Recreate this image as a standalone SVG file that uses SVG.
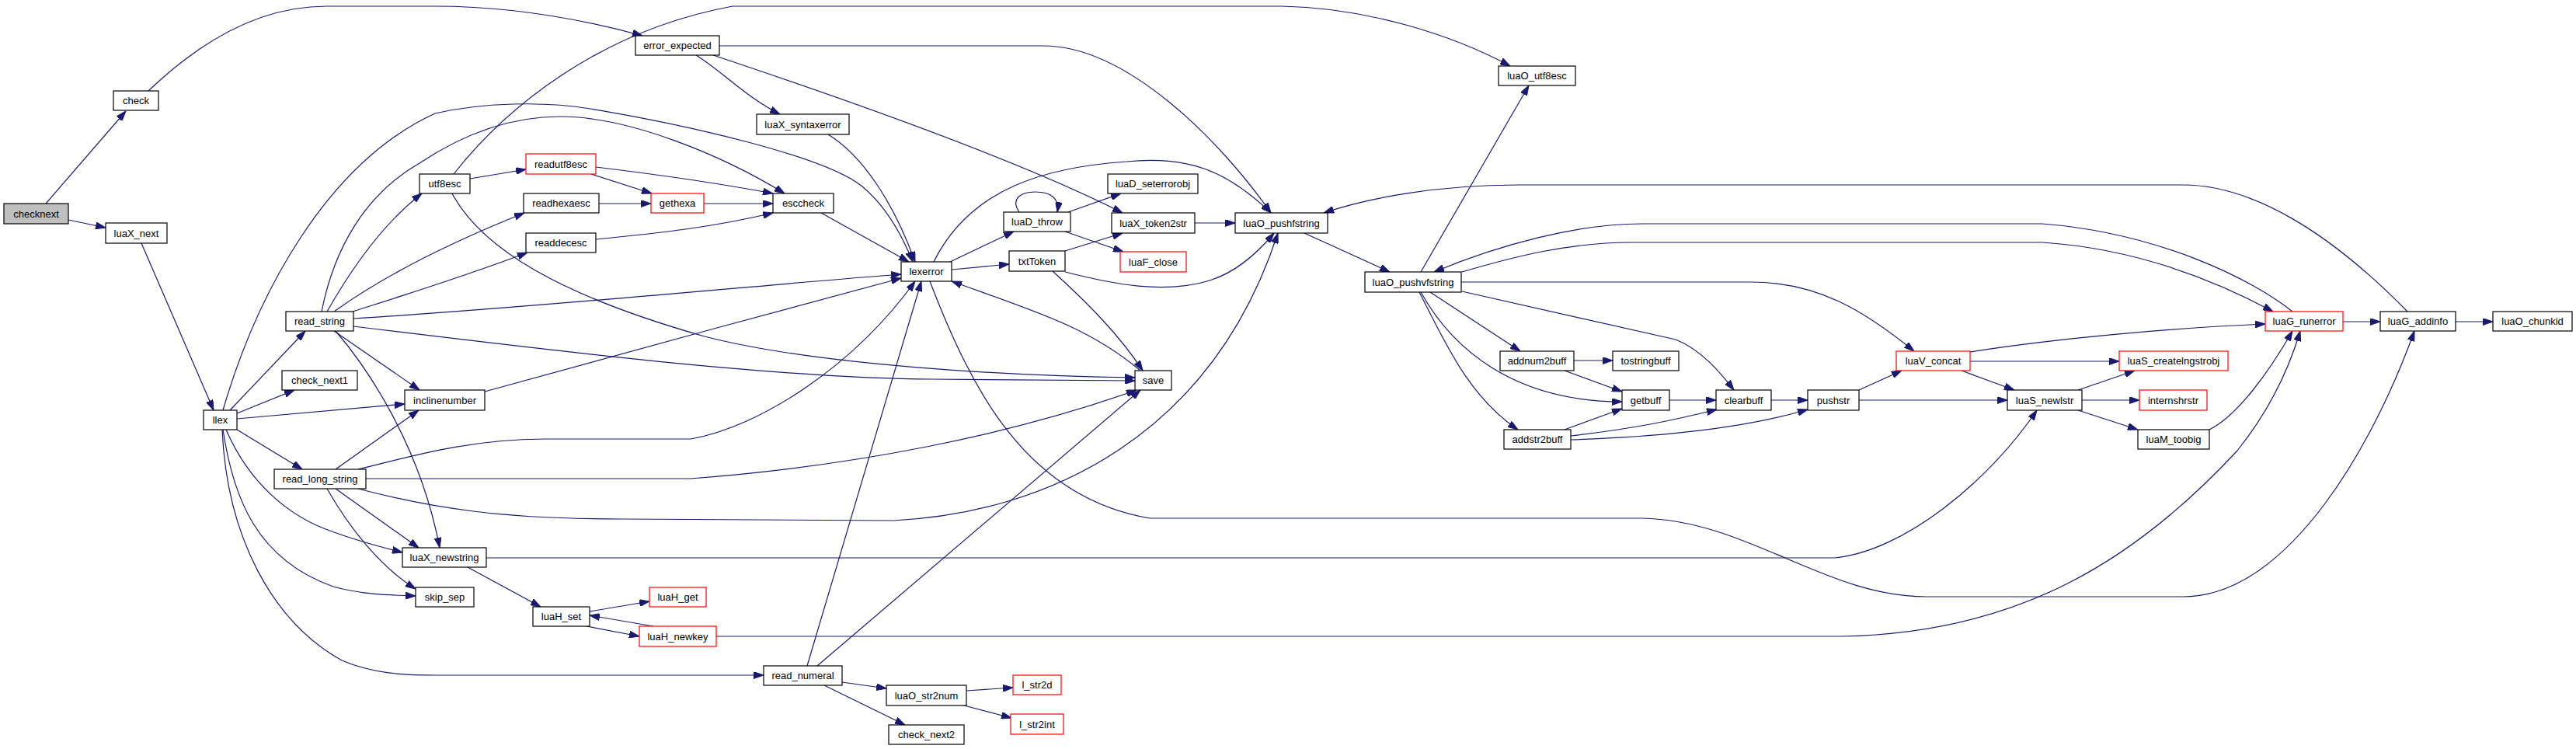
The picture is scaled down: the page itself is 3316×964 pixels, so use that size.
<svg xmlns="http://www.w3.org/2000/svg" width="3316" height="964" viewBox="0 0 3316 964">
<defs>
<marker id="a" markerWidth="13" markerHeight="9" refX="13" refY="4.5" orient="auto" markerUnits="userSpaceOnUse"><path d="M0,0 L13,4.5 L0,9 z" fill="#191970" stroke="#191970" stroke-width="1"/></marker>
</defs>
<style>
.node rect{fill:#ffffff;stroke:#000000;stroke-width:1.2}
.node.red rect{stroke:#ff0000}
.node.cur rect{fill:#bfbfbf}
.node text{font-family:"Liberation Sans",Arial,sans-serif;font-size:13px;fill:#000000;text-anchor:middle}
.edges path{fill:none;stroke:#191970;stroke-width:1.2;marker-end:url(#a)}
</style>
<rect x="0" y="0" width="3316" height="964" fill="#ffffff"/>
<g id="edges" class="edges">
<path d="M59,262 L162,143"/>
<path d="M88,283 L136,293"/>
<path d="M191,117 C240,70 320,8 420,8 L560,8 C660,8 750,25 827,46"/>
<path d="M182,313 L275,528"/>
<path d="M296,528 L393,426"/>
<path d="M305,532 L379,502"/>
<path d="M305,539 L521,520"/>
<path d="M305,553 L389,604"/>
<path d="M291,553 C320,620 370,665 430,685 C460,696 490,704 518,711"/>
<path d="M287,553 C300,640 330,720 429,755 C465,765 500,766 535,767"/>
<path d="M286,553 C292,690 350,800 440,850 C480,867 520,869 560,869 L983,869"/>
<path d="M287,528 C330,380 420,210 560,146 C620,132 700,130 760,140 C880,160 1060,200 1110,240 C1140,265 1160,300 1175,337"/>
<path d="M414,401 C430,320 470,250 540,210 C600,170 660,150 721,150 C810,150 930,200 1010,249"/>
<path d="M421,401 C450,350 490,290 543,249"/>
<path d="M430,401 C480,365 560,320 675,274"/>
<path d="M454,401 C520,380 600,355 679,325"/>
<path d="M455,410 C700,395 1000,365 1160,353"/>
<path d="M430,426 L540,502"/>
<path d="M432,426 C470,470 540,570 566,705"/>
<path d="M455,420 C700,450 1000,487 1200,488 L1461,490"/>
<path d="M584,224 C650,140 770,40 943,8 L1650,8 C1760,10 1870,45 1944,85"/>
<path d="M605,230 L677,218"/>
<path d="M582,249 C620,320 720,380 907,433 C1050,470 1300,484 1461,486"/>
<path d="M761,224 L839,249"/>
<path d="M767,215 C850,225 920,235 995,249"/>
<path d="M771,262 L838,262"/>
<path d="M906,262 L995,262"/>
<path d="M767,308 C850,300 920,292 995,274"/>
<path d="M1057,274 L1170,337"/>
<path d="M896,71 C930,92 960,125 1004,147"/>
<path d="M918,71 C1050,115 1300,200 1445,274"/>
<path d="M926,59 L1343,59 C1450,59 1570,180 1636,274"/>
<path d="M1066,173 C1110,200 1150,260 1178,337"/>
<path d="M432,604 L539,528"/>
<path d="M461,604 C520,590 600,565 700,565 L889,565 C980,549 1100,470 1178,362"/>
<path d="M471,616 L889,616 C1100,600 1300,560 1463,502"/>
<path d="M461,629 C560,655 650,668 800,668 L1150,670 C1350,660 1560,560 1645,300"/>
<path d="M432,629 L539,705"/>
<path d="M421,629 C450,680 490,730 535,758"/>
<path d="M624,504 C750,470 1000,400 1160,358"/>
<path d="M602,730 L696,781"/>
<path d="M626,718 L2361,718 C2450,710 2560,620 2622,528"/>
<path d="M759,787 L836,774"/>
<path d="M755,806 L823,819"/>
<path d="M841,806 L759,792"/>
<path d="M922,819 L2370,819 C2600,815 2750,720 2880,580 C2920,530 2945,480 2961,426"/>
<path d="M1039,857 L1186,362"/>
<path d="M1052,857 L1468,502"/>
<path d="M1084,878 L1141,886"/>
<path d="M1061,882 L1165,933"/>
<path d="M1244,889 L1304,885"/>
<path d="M1241,908 L1302,924"/>
<path d="M1223,337 L1305,298"/>
<path d="M1225,347 L1299,340"/>
<path d="M1202,337 C1250,240 1350,215 1450,208 C1530,200 1580,220 1636,274"/>
<path d="M1197,362 C1250,500 1320,640 1480,667 L2114,667 C2250,670 2350,768 2480,768 L2810,768 C2950,768 3060,560 3108,426"/>
<path d="M1468,477 C1400,420 1330,400 1225,362"/>
<path d="M1312,273 C1300,255 1315,247 1333,247 C1352,247 1364,255 1361,273"/>
<path d="M1375,273 L1443,249"/>
<path d="M1371,298 L1446,324"/>
<path d="M1371,323 L1445,300"/>
<path d="M1371,350 C1430,365 1500,380 1560,360 C1590,350 1615,330 1640,300"/>
<path d="M1355,349 C1400,390 1440,430 1471,477"/>
<path d="M1538,287 L1590,287"/>
<path d="M1679,300 L1789,350"/>
<path d="M1829,350 L1968,110"/>
<path d="M1841,376 L1957,452"/>
<path d="M2026,464 L2076,464"/>
<path d="M2014,477 L2088,504"/>
<path d="M1829,376 C1870,450 1950,517 2088,517"/>
<path d="M1827,376 C1860,440 1890,510 1954,553"/>
<path d="M1882,375 L2157,437 C2190,450 2215,480 2232,502"/>
<path d="M1881,363 L2254,363 C2340,363 2400,400 2464,452"/>
<path d="M2951,401 C2900,360 2780,300 2629,288 L2114,288 C2030,288 1930,315 1846,350"/>
<path d="M1882,350 C1950,330 2020,312 2100,312 L2629,312 C2750,320 2850,360 2926,401"/>
<path d="M3099,401 C3000,300 2900,238 2810,238 L1954,238 C1850,238 1760,255 1704,274"/>
<path d="M3016,414 L3064,414"/>
<path d="M3161,414 L3209,414"/>
<path d="M2149,515 L2209,515"/>
<path d="M2014,553 L2088,526"/>
<path d="M2022,561 C2100,552 2150,542 2210,527"/>
<path d="M2022,566 C2150,562 2250,550 2327,527"/>
<path d="M2280,515 L2327,515"/>
<path d="M2393,515 L2584,515"/>
<path d="M2393,502 L2448,477"/>
<path d="M2525,477 L2593,502"/>
<path d="M2536,465 L2728,465"/>
<path d="M2536,453 C2650,435 2800,422 2916,417"/>
<path d="M2675,502 L2748,477"/>
<path d="M2680,515 L2754,515"/>
<path d="M2675,528 L2752,553"/>
<path d="M2844,553 C2880,535 2920,480 2951,426"/>
</g>
<g id="n_checknext" class="node cur"><rect x="5" y="262" width="83" height="26"/><text x="46.5" y="279.5">checknext</text></g>
<g id="n_check" class="node"><rect x="146" y="117" width="58" height="25"/><text x="175" y="134">check</text></g>
<g id="n_luaX_next" class="node"><rect x="136" y="287" width="79" height="26"/><text x="175.5" y="304.5">luaX_next</text></g>
<g id="n_error_expected" class="node"><rect x="818" y="46" width="108" height="25"/><text x="872" y="63">error_expected</text></g>
<g id="n_luaX_syntaxerror" class="node"><rect x="974" y="147" width="119" height="26"/><text x="1033.5" y="164.5">luaX_syntaxerror</text></g>
<g id="n_llex" class="node"><rect x="262" y="528" width="43" height="25"/><text x="283.5" y="545">llex</text></g>
<g id="n_read_string" class="node"><rect x="368" y="401" width="87" height="25"/><text x="411.5" y="418">read_string</text></g>
<g id="n_check_next1" class="node"><rect x="363" y="477" width="97" height="25"/><text x="411.5" y="494">check_next1</text></g>
<g id="n_inclinenumber" class="node"><rect x="521" y="502" width="103" height="26"/><text x="572.5" y="519.5">inclinenumber</text></g>
<g id="n_read_long_string" class="node"><rect x="353" y="604" width="118" height="25"/><text x="412" y="621">read_long_string</text></g>
<g id="n_luaX_newstring" class="node"><rect x="518" y="705" width="108" height="25"/><text x="572" y="722">luaX_newstring</text></g>
<g id="n_skip_sep" class="node"><rect x="535" y="756" width="75" height="25"/><text x="572.5" y="773">skip_sep</text></g>
<g id="n_utf8esc" class="node"><rect x="540" y="224" width="65" height="25"/><text x="572.5" y="241">utf8esc</text></g>
<g id="n_readutf8esc" class="node red"><rect x="677" y="198" width="90" height="26"/><text x="722" y="215.5">readutf8esc</text></g>
<g id="n_readhexaesc" class="node"><rect x="674" y="249" width="97" height="25"/><text x="722.5" y="266">readhexaesc</text></g>
<g id="n_gethexa" class="node red"><rect x="838" y="249" width="68" height="25"/><text x="872" y="266">gethexa</text></g>
<g id="n_esccheck" class="node"><rect x="995" y="249" width="78" height="25"/><text x="1034" y="266">esccheck</text></g>
<g id="n_readdecesc" class="node"><rect x="677" y="300" width="90" height="25"/><text x="722" y="317">readdecesc</text></g>
<g id="n_luaH_set" class="node"><rect x="686" y="781" width="73" height="25"/><text x="722.5" y="798">luaH_set</text></g>
<g id="n_luaH_get" class="node red"><rect x="836" y="756" width="73" height="25"/><text x="872.5" y="773">luaH_get</text></g>
<g id="n_luaH_newkey" class="node red"><rect x="823" y="806" width="99" height="26"/><text x="872.5" y="823.5">luaH_newkey</text></g>
<g id="n_read_numeral" class="node"><rect x="983" y="857" width="101" height="25"/><text x="1033.5" y="874">read_numeral</text></g>
<g id="n_lexerror" class="node"><rect x="1160" y="337" width="65" height="25"/><text x="1192.5" y="354">lexerror</text></g>
<g id="n_luaD_throw" class="node"><rect x="1292" y="273" width="86" height="25"/><text x="1335" y="290">luaD_throw</text></g>
<g id="n_txtToken" class="node"><rect x="1299" y="323" width="72" height="26"/><text x="1335" y="340.5">txtToken</text></g>
<g id="n_luaD_seterrorobj" class="node"><rect x="1426" y="224" width="116" height="25"/><text x="1484" y="241">luaD_seterrorobj</text></g>
<g id="n_luaX_token2str" class="node"><rect x="1431" y="274" width="107" height="26"/><text x="1484.5" y="291.5">luaX_token2str</text></g>
<g id="n_luaF_close" class="node red"><rect x="1442" y="324" width="85" height="26"/><text x="1484.5" y="341.5">luaF_close</text></g>
<g id="n_luaO_pushfstring" class="node"><rect x="1590" y="274" width="119" height="26"/><text x="1649.5" y="291.5">luaO_pushfstring</text></g>
<g id="n_save" class="node"><rect x="1461" y="477" width="47" height="25"/><text x="1484.5" y="494">save</text></g>
<g id="n_luaO_str2num" class="node"><rect x="1141" y="882" width="103" height="26"/><text x="1192.5" y="899.5">luaO_str2num</text></g>
<g id="n_l_str2d" class="node red"><rect x="1304" y="869" width="62" height="25"/><text x="1335" y="886">l_str2d</text></g>
<g id="n_l_str2int" class="node red"><rect x="1301" y="919" width="68" height="26"/><text x="1335" y="936.5">l_str2int</text></g>
<g id="n_check_next2" class="node"><rect x="1144" y="933" width="97" height="25"/><text x="1192.5" y="950">check_next2</text></g>
<g id="n_luaO_utf8esc" class="node"><rect x="1929" y="85" width="99" height="25"/><text x="1978.5" y="102">luaO_utf8esc</text></g>
<g id="n_luaO_pushvfstring" class="node"><rect x="1757" y="350" width="124" height="26"/><text x="1819" y="367.5">luaO_pushvfstring</text></g>
<g id="n_addnum2buff" class="node"><rect x="1931" y="452" width="95" height="25"/><text x="1978.5" y="469">addnum2buff</text></g>
<g id="n_tostringbuff" class="node"><rect x="2076" y="452" width="85" height="25"/><text x="2118.5" y="469">tostringbuff</text></g>
<g id="n_getbuff" class="node"><rect x="2088" y="502" width="61" height="26"/><text x="2118.5" y="519.5">getbuff</text></g>
<g id="n_addstr2buff" class="node"><rect x="1936" y="553" width="86" height="25"/><text x="1979" y="570">addstr2buff</text></g>
<g id="n_clearbuff" class="node"><rect x="2209" y="502" width="71" height="26"/><text x="2244.5" y="519.5">clearbuff</text></g>
<g id="n_pushstr" class="node"><rect x="2327" y="502" width="66" height="26"/><text x="2360" y="519.5">pushstr</text></g>
<g id="n_luaS_newlstr" class="node"><rect x="2584" y="502" width="96" height="26"/><text x="2632" y="519.5">luaS_newlstr</text></g>
<g id="n_internshrstr" class="node red"><rect x="2754" y="502" width="87" height="26"/><text x="2797.5" y="519.5">internshrstr</text></g>
<g id="n_luaM_toobig" class="node"><rect x="2752" y="553" width="92" height="25"/><text x="2798" y="570">luaM_toobig</text></g>
<g id="n_luaV_concat" class="node red"><rect x="2441" y="452" width="95" height="25"/><text x="2488.5" y="469">luaV_concat</text></g>
<g id="n_luaS_createlngstrobj" class="node red"><rect x="2728" y="452" width="140" height="25"/><text x="2798" y="469">luaS_createlngstrobj</text></g>
<g id="n_luaG_runerror" class="node red"><rect x="2916" y="401" width="100" height="25"/><text x="2966" y="418">luaG_runerror</text></g>
<g id="n_luaG_addinfo" class="node"><rect x="3064" y="401" width="97" height="25"/><text x="3112.5" y="418">luaG_addinfo</text></g>
<g id="n_luaO_chunkid" class="node"><rect x="3209" y="401" width="102" height="25"/><text x="3260" y="418">luaO_chunkid</text></g>
</svg>
